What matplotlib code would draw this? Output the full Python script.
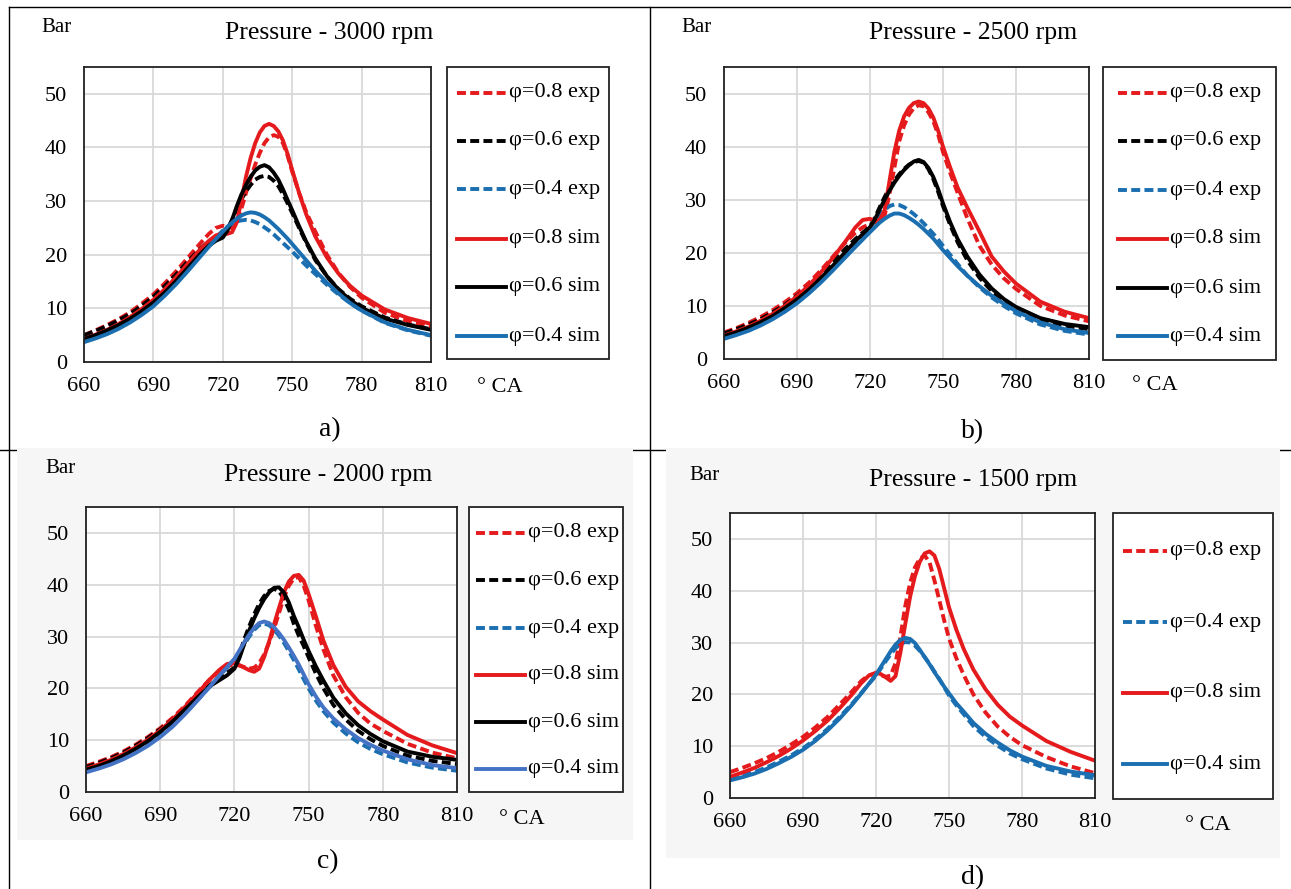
import matplotlib
matplotlib.use("Agg")
import matplotlib.pyplot as plt
from matplotlib.lines import Line2D
from matplotlib.patches import Rectangle

plt.rcParams['font.family'] = ['Liberation Serif', 'DejaVu Serif']

# crank angle (deg) where values were read
ca_deg = [660, 665, 670, 675, 680, 685, 690, 695, 700, 705,
          710, 714, 717, 720, 722, 724, 726, 728, 730, 732,
          734, 736, 738, 740, 742, 744, 746, 748, 750, 753,
          756, 760, 765, 770, 775, 780, 790, 800, 810]

# 3000 rpm
p3000_exp08 = [5.0, 5.9, 6.9, 8.0, 9.3, 10.9, 12.6, 14.7, 17.0, 19.5,
               22.0, 23.9, 25.0, 25.4, 25.2, 25.0, 25.8, 28.5, 31.5, 34.2,
               36.8, 39.0, 40.8, 41.9, 42.3, 42.0, 40.8, 38.5, 35.5, 31.5,
               28.0, 24.3, 20.0, 16.6, 14.0, 12.0, 9.2, 7.6, 6.6]
p3000_exp06 = [5.0, 5.8, 6.7, 7.8, 9.0, 10.5, 12.2, 14.2, 16.4, 18.8,
               21.0, 22.5, 23.3, 23.8, 24.8, 26.5, 28.5, 30.3, 31.8, 33.0,
               34.0, 34.5, 34.7, 34.5, 33.8, 32.8, 31.3, 29.6, 27.8, 25.0,
               22.3, 19.0, 16.0, 13.6, 11.8, 10.4, 8.3, 7.0, 6.1]
p3000_exp04 = [4.0, 4.6, 5.4, 6.4, 7.6, 9.0, 10.7, 12.7, 14.9, 17.3,
               19.8, 21.8, 23.2, 24.5, 25.2, 25.8, 26.2, 26.4, 26.5, 26.4,
               26.1, 25.7, 25.1, 24.5, 23.8, 23.0, 22.2, 21.4, 20.6, 19.3,
               18.0, 16.4, 14.4, 12.6, 11.0, 9.6, 7.3, 5.9, 4.9]
p3000_sim08 = [4.3, 5.1, 6.0, 7.1, 8.4, 9.9, 11.6, 13.6, 15.9, 18.4,
               20.9, 22.6, 23.6, 24.0, 23.9, 24.2, 26.0, 30.0, 34.5, 38.0,
               40.8, 42.8, 44.0, 44.4, 44.0, 43.0, 41.3, 38.8, 35.8, 31.5,
               27.6, 23.4, 19.5, 16.5, 14.2, 12.4, 9.8, 8.2, 7.1]
p3000_sim06 = [4.3, 5.0, 5.9, 6.9, 8.1, 9.5, 11.1, 13.0, 15.2, 17.6,
               20.0, 21.7, 22.6, 23.2, 24.5, 26.5, 29.0, 31.2, 33.0, 34.5,
               35.7, 36.4, 36.7, 36.3, 35.3, 34.0, 32.2, 30.2, 28.3, 25.3,
               22.5, 19.3, 16.0, 13.5, 11.6, 10.1, 8.1, 6.9, 6.0]
p3000_sim04 = [3.7, 4.4, 5.2, 6.2, 7.4, 8.8, 10.4, 12.4, 14.6, 17.0,
               19.5, 21.5, 22.9, 24.3, 25.2, 26.0, 26.7, 27.3, 27.7, 27.9,
               27.8, 27.5, 27.0, 26.4, 25.6, 24.8, 23.9, 23.0, 22.0, 20.5,
               19.0, 17.0, 14.8, 12.8, 11.0, 9.6, 7.4, 6.0, 5.0]

# 2500 rpm
p2500_exp08 = [5.0, 5.8, 6.8, 7.9, 9.2, 10.7, 12.4, 14.4, 16.8, 19.4,
               22.0, 23.8, 24.8, 25.4, 25.7, 26.0, 27.0, 31.0, 36.0, 41.0,
               44.0, 46.0, 47.3, 47.8, 47.6, 46.5, 44.8, 42.3, 39.0, 35.0,
               31.3, 26.5, 21.3, 17.8, 15.2, 13.2, 10.0, 8.2, 7.1]
p2500_exp06 = [4.8, 5.6, 6.5, 7.5, 8.8, 10.2, 11.9, 13.8, 16.0, 18.4,
               20.8, 22.6, 23.8, 24.9, 26.6, 28.6, 30.5, 32.2, 33.6, 34.8,
               35.8, 36.6, 37.1, 37.3, 37.0, 35.8, 33.9, 31.5, 28.8, 25.2,
               22.0, 18.6, 15.3, 12.8, 10.9, 9.5, 7.5, 6.3, 5.6]
p2500_exp04 = [4.0, 4.7, 5.5, 6.5, 7.7, 9.1, 10.7, 12.6, 14.7, 17.0,
               19.4, 21.4, 23.0, 24.8, 26.1, 27.2, 28.1, 28.8, 29.1, 29.0,
               28.6, 28.0, 27.3, 26.5, 25.6, 24.6, 23.6, 22.5, 21.3, 19.6,
               17.9, 15.7, 13.5, 11.6, 10.0, 8.6, 6.5, 5.3, 4.6]
p2500_sim08 = [4.4, 5.2, 6.1, 7.2, 8.5, 10.0, 11.8, 13.9, 16.4, 19.2,
               22.2, 24.8, 26.2, 26.4, 26.0, 26.2, 28.0, 33.5, 39.0, 43.0,
               45.7, 47.3, 48.2, 48.5, 48.2, 47.2, 45.5, 43.0, 40.0, 36.0,
               32.3, 28.5, 24.0, 19.3, 16.5, 14.2, 10.8, 8.9, 7.7]
p2500_sim06 = [4.3, 5.0, 5.9, 6.9, 8.1, 9.6, 11.2, 13.1, 15.3, 17.7,
               20.2, 22.2, 23.5, 24.8, 26.3, 28.2, 30.0, 31.7, 33.2, 34.5,
               35.6, 36.5, 37.2, 37.5, 37.1, 36.0, 34.3, 32.0, 29.3, 25.7,
               22.6, 19.3, 15.9, 13.3, 11.3, 9.8, 7.7, 6.6, 6.0]
p2500_sim04 = [3.8, 4.5, 5.3, 6.3, 7.5, 8.9, 10.5, 12.4, 14.5, 16.8,
               19.2, 21.1, 22.5, 23.9, 24.8, 25.7, 26.4, 27.0, 27.4, 27.4,
               27.1, 26.6, 26.0, 25.3, 24.5, 23.6, 22.7, 21.6, 20.5, 19.0,
               17.5, 15.7, 13.7, 11.9, 10.4, 9.0, 6.9, 5.6, 4.9]

# 2000 rpm
p2000_exp08 = [5.0, 5.8, 6.7, 7.8, 9.1, 10.6, 12.3, 14.3, 16.6, 19.2,
               21.7, 23.4, 24.3, 24.6, 24.4, 24.1, 23.8, 24.0, 24.8, 26.5,
               28.8, 31.5, 34.5, 37.5, 39.8, 41.2, 41.5, 39.8, 37.0, 32.0,
               27.5, 22.5, 18.3, 15.3, 13.2, 11.8, 9.3, 7.6, 6.5]
p2000_exp06 = [4.8, 5.6, 6.5, 7.6, 8.9, 10.4, 12.1, 14.0, 16.2, 18.5,
               20.6, 22.0, 23.0, 24.0, 26.5, 29.5, 32.0, 34.3, 36.3, 37.8,
               38.8, 39.2, 38.8, 37.3, 35.3, 32.5, 30.2, 28.2, 26.0, 22.8,
               20.0, 16.8, 14.0, 11.8, 10.2, 8.9, 7.0, 6.0, 5.4]
p2000_exp04 = [4.0, 4.7, 5.5, 6.5, 7.7, 9.1, 10.8, 12.8, 15.1, 17.7,
               20.3, 22.4, 24.0, 25.5, 27.0, 28.5, 30.0, 31.3, 32.2, 32.5,
               32.2, 31.4, 30.2, 28.8, 27.2, 25.5, 23.7, 21.8, 20.0, 17.6,
               15.6, 13.4, 11.3, 9.6, 8.3, 7.3, 5.7, 4.7, 4.1]
p2000_sim08 = [4.5, 5.3, 6.2, 7.3, 8.6, 10.1, 11.9, 14.0, 16.4, 19.0,
               21.7, 23.6, 24.7, 24.9, 24.5, 24.0, 23.5, 23.2, 23.8, 26.0,
               29.0, 32.3, 35.5, 38.5, 40.6, 41.7, 41.9, 40.8, 38.2, 33.8,
               29.2, 24.5, 20.3, 17.5, 15.6, 14.0, 11.0, 9.0, 7.5]
p2000_sim06 = [4.3, 5.0, 5.9, 7.0, 8.3, 9.8, 11.6, 13.6, 15.9, 18.2,
               20.4, 21.6, 22.5, 23.8, 25.8, 28.6, 31.2, 33.5, 35.5, 37.2,
               38.5, 39.4, 39.5, 38.5, 36.6, 34.0, 31.8, 29.4, 27.2, 24.2,
               21.5, 18.2, 15.2, 12.9, 11.2, 9.8, 7.8, 6.8, 6.2]
p2000_sim04 = [3.8, 4.5, 5.3, 6.3, 7.5, 8.9, 10.6, 12.6, 15.0, 17.6,
               20.3, 22.5, 24.1, 25.7, 27.3, 28.9, 30.4, 31.7, 32.6, 32.9,
               32.6, 31.8, 30.7, 29.4, 27.9, 26.3, 24.6, 22.7, 20.8, 18.4,
               16.3, 14.2, 12.1, 10.4, 9.1, 8.0, 6.3, 5.2, 4.6]

# 1500 rpm
p1500_exp08 = [5.0, 5.8, 6.7, 7.7, 8.9, 10.3, 11.8, 13.6, 15.6, 18.0,
               20.5, 22.6, 23.7, 24.0, 23.7, 23.4, 23.6, 26.0, 31.0, 37.0,
               41.5, 44.5, 46.2, 46.8, 45.5, 42.0, 38.2, 34.3, 30.8, 27.0,
               23.8, 20.0, 16.5, 13.8, 11.8, 10.2, 7.9, 6.1, 4.8]
p1500_exp04 = [3.7, 4.3, 5.0, 5.9, 7.0, 8.2, 9.6, 11.3, 13.3, 15.6,
               18.1, 20.3, 22.0, 23.6, 25.0, 26.4, 27.7, 28.9, 29.7, 30.1,
               30.0, 29.4, 28.4, 27.2, 25.9, 24.4, 23.0, 21.4, 19.8, 17.9,
               16.2, 13.9, 11.8, 10.1, 8.6, 7.5, 5.7, 4.5, 3.8]
p1500_sim08 = [4.1, 4.9, 5.8, 6.9, 8.1, 9.5, 11.1, 12.9, 14.9, 17.3,
               19.9, 22.2, 23.6, 24.2, 23.9, 23.3, 22.6, 23.5, 28.0, 33.5,
               38.8, 42.8, 45.6, 47.2, 47.6, 46.8, 44.2, 40.5, 36.8, 32.5,
               28.8, 24.8, 21.0, 18.0, 15.7, 14.0, 11.0, 8.9, 7.2]
p1500_sim04 = [3.4, 4.0, 4.7, 5.6, 6.7, 7.9, 9.3, 11.0, 13.0, 15.3,
               17.9, 20.2, 22.0, 23.8, 25.3, 26.8, 28.3, 29.6, 30.5, 30.9,
               30.7, 29.9, 28.6, 27.2, 25.8, 24.3, 22.9, 21.5, 20.2, 18.3,
               16.7, 14.5, 12.4, 10.7, 9.2, 8.0, 6.2, 5.1, 4.4]

titles = ["Pressure - 3000 rpm", "Pressure - 2500 rpm", "Pressure - 2000 rpm", "Pressure - 1500 rpm"]
panel_tags = ["a)", "b)", "c)", "d)"]
labels6 = ["φ=0.8 exp", "φ=0.6 exp", "φ=0.4 exp", "φ=0.8 sim", "φ=0.6 sim", "φ=0.4 sim"]
labels4 = ["φ=0.8 exp", "φ=0.4 exp", "φ=0.8 sim", "φ=0.4 sim"]

RED = '#e41a1c'
BLK = '#000000'
BLU = '#1b6fb0'
BLU_C = '#4472c4'
DASH = (0, (2.3, 1.1))
SOLID = '-'
LW = 2.8

W, H = 1291, 889


def fx(px):
    return px / W


def fy(py):
    return 1 - py / H


fig = plt.figure(figsize=(W / 100, H / 100), dpi=100)
fig.patch.set_facecolor('white')

# table borders
for x0, y0, x1, y1 in [(9, 7, 1291, 7), (9, 7, 9, 889), (650, 7, 650, 889), (0, 450, 1291, 450)]:
    fig.add_artist(Line2D([fx(x0), fx(x1)], [fy(y0), fy(y1)], transform=fig.transFigure,
                          color='black', lw=1.0, zorder=-2))
# light backgrounds of the two lower pictures
for l, t, r, b in [(17, 448, 633, 840), (666, 448, 1280, 858)]:
    fig.add_artist(Rectangle((fx(l), fy(b)), (r - l) / W, (b - t) / H, transform=fig.transFigure,
                             facecolor='#f6f6f6', edgecolor='none', zorder=-1))

panels = [
    dict(series=[(p3000_exp08, RED, DASH), (p3000_exp06, BLK, DASH), (p3000_exp04, BLU, DASH),
                 (p3000_sim08, RED, SOLID), (p3000_sim06, BLK, SOLID), (p3000_sim04, BLU, SOLID)],
         labels=labels6, ax=(84, 67, 431, 362), leg=(447, 67, 609, 359),
         rows=[93, 141, 189, 239, 287, 336], hx=(457, 506),
         title=(329, 33), bar=(57, 27), unit=(500, 388), tag=(330, 430)),
    dict(series=[(p2500_exp08, RED, DASH), (p2500_exp06, BLK, DASH), (p2500_exp04, BLU, DASH),
                 (p2500_sim08, RED, SOLID), (p2500_sim06, BLK, SOLID), (p2500_sim04, BLU, SOLID)],
         labels=labels6, ax=(724, 67, 1089, 359), leg=(1103, 67, 1276, 360),
         rows=[93, 141, 190, 239, 288, 336], hx=(1118, 1167),
         title=(973, 33), bar=(697, 27), unit=(1155, 386), tag=(973, 432)),
    dict(series=[(p2000_exp08, RED, DASH), (p2000_exp06, BLK, DASH), (p2000_exp04, BLU, DASH),
                 (p2000_sim08, RED, SOLID), (p2000_sim06, BLK, SOLID), (p2000_sim04, BLU_C, SOLID)],
         labels=labels6, ax=(86, 507, 457, 792), leg=(469, 507, 623, 792),
         rows=[533, 580, 628, 675, 722, 769], hx=(476, 525),
         title=(328, 475), bar=(60, 469), unit=(522, 820), tag=(328, 862)),
    dict(series=[(p1500_exp08, RED, DASH), (p1500_exp04, BLU, DASH),
                 (p1500_sim08, RED, SOLID), (p1500_sim04, BLU, SOLID)],
         labels=labels4, ax=(730, 513, 1095, 798), leg=(1113, 513, 1273, 799),
         rows=[551, 622, 693, 764], hx=(1123, 1167),
         title=(973, 480), bar=(704, 475), unit=(1208, 825), tag=(973, 878)),
]

for i, p in enumerate(panels):
    l, t, r, b = p['ax']
    ax = fig.add_axes([fx(l), fy(b), (r - l) / W, (b - t) / H])
    ax.set_facecolor('white')
    for ys, col, ls in p['series']:
        assert len(ys) == len(ca_deg)
        ax.plot(ca_deg, ys, color=col, linestyle=ls, lw=LW,
                solid_joinstyle='round', dash_joinstyle='round')
    ax.set_xlim(660, 810)
    ax.set_ylim(0, 55)
    ax.set_xticks(range(660, 811, 30))
    ax.set_yticks(range(0, 51, 10))
    ax.grid(True, color='#d9d9d9', lw=1.3)
    ax.set_axisbelow(True)
    ax.tick_params(length=0, labelsize=16)
    ax.tick_params(axis='x', pad=11)
    ax.tick_params(axis='y', pad=12)
    for s in ax.spines.values():
        s.set_color('#222222')
        s.set_linewidth(1.3)

    # legend box
    l2, t2, r2, b2 = p['leg']
    fig.add_artist(Rectangle((fx(l2), fy(b2)), (r2 - l2) / W, (b2 - t2) / H, transform=fig.transFigure,
                             facecolor='white', edgecolor='#222222', lw=1.3, zorder=1))
    h0, h1 = p['hx']
    for (ys, col, ls), lab, ry in zip(p['series'], p['labels'], p['rows']):
        fig.add_artist(Line2D([fx(h0), fx(h1)], [fy(ry), fy(ry)], transform=fig.transFigure,
                              color=col, linestyle=ls, lw=LW, zorder=2))
        fig.text(fx(h1 + 3), fy(ry), lab, fontsize=16, va='center', ha='left')

    fig.text(fx(p['title'][0]), fy(p['title'][1]), titles[i], fontsize=18.5, ha='center', va='center')
    fig.text(fx(p['bar'][0]), fy(p['bar'][1]), "Bar", fontsize=15, ha='center', va='center')
    fig.text(fx(p['unit'][0]), fy(p['unit'][1]), "° CA", fontsize=16, ha='center', va='center')
    fig.text(fx(p['tag'][0]), fy(p['tag'][1]), panel_tags[i], fontsize=20, ha='center', va='center')

fig.savefig("out.png", dpi=100)
